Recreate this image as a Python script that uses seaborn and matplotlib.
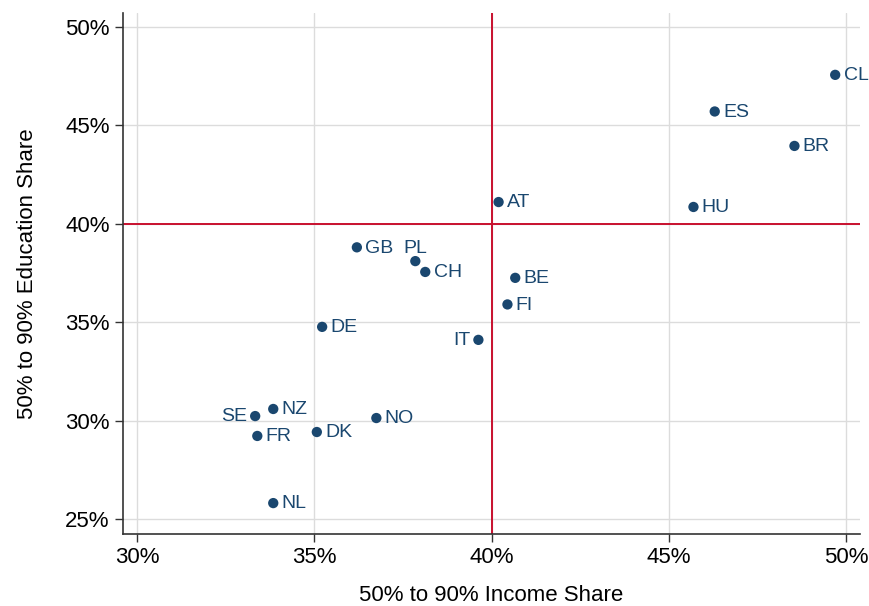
import pandas as pd
import matplotlib.pyplot as plt
import seaborn as sns
from matplotlib.ticker import PercentFormatter

# data
paises = ['CL', 'ES', 'BR', 'HU', 'AT', 'GB', 'PL', 'CH', 'BE', 'FI',
          'DE', 'IT', 'NZ', 'SE', 'NO', 'FR', 'DK', 'NL']
renda = [49.7, 46.3, 48.55, 45.7, 40.2, 36.2, 37.85, 38.13, 40.67, 40.45,
         35.22, 39.63, 33.84, 33.33, 36.75, 33.39, 35.07, 33.84]
educacao = [47.56, 45.7, 43.95, 40.85, 41.1, 38.8, 38.1, 37.55, 37.25, 35.9,
            34.76, 34.1, 30.59, 30.23, 30.13, 29.22, 29.42, 25.81]
# posição do rótulo: r = direita, l = esquerda, u = acima
posicao = ['r', 'r', 'r', 'r', 'r', 'r', 'u', 'r', 'r', 'r',
           'r', 'l', 'r', 'l', 'r', 'r', 'r', 'r']

df = pd.DataFrame({'pais': paises, 'renda': renda, 'educacao': educacao, 'pos': posicao})

sns.set_style('white')
plt.rcParams['font.family'] = ['Liberation Sans', 'DejaVu Sans']

azul = '#1a476f'
vermelho = '#c8102e'

fig, ax = plt.subplots(figsize=(8.7, 6.06), dpi=100)

ax.axvline(40, color=vermelho, lw=1.4, zorder=2)
ax.axhline(40, color=vermelho, lw=1.4, zorder=2)

sns.scatterplot(data=df, x='renda', y='educacao', color=azul, s=55,
                edgecolor='none', ax=ax, zorder=3)

for _, r in df.iterrows():
    if r['pos'] == 'r':
        ax.annotate(r['pais'], (r['renda'], r['educacao']), xytext=(6, -0.5),
                    textcoords='offset points', ha='left', va='center',
                    fontsize=14, color=azul)
    elif r['pos'] == 'l':
        ax.annotate(r['pais'], (r['renda'], r['educacao']), xytext=(-6, -0.5),
                    textcoords='offset points', ha='right', va='center',
                    fontsize=14, color=azul)
    else:
        ax.annotate(r['pais'], (r['renda'], r['educacao']), xytext=(0, 3),
                    textcoords='offset points', ha='center', va='bottom',
                    fontsize=14, color=azul)

ax.set_xlim(29.6, 50.4)
ax.set_ylim(24.24, 50.7)
ax.set_xticks([30, 35, 40, 45, 50])
ax.set_yticks([25, 30, 35, 40, 45, 50])
ax.xaxis.set_major_formatter(PercentFormatter(decimals=0))
ax.yaxis.set_major_formatter(PercentFormatter(decimals=0))
ax.grid(True, color='#dcdcdc', lw=1, zorder=0)
ax.set_axisbelow(True)

for s in ['top', 'right']:
    ax.spines[s].set_visible(False)
for s in ['left', 'bottom']:
    ax.spines[s].set_color('#333333')
    ax.spines[s].set_linewidth(1.2)

ax.tick_params(axis='both', which='major', length=6, width=1, direction='out',
               labelsize=16, color='#333333', labelcolor='black',
               bottom=True, left=True)
ax.set_xlabel('50% to 90% Income Share', fontsize=16, labelpad=12, color='black')
ax.set_ylabel('50% to 90% Education Share', fontsize=16, labelpad=20, color='black')

plt.subplots_adjust(left=0.1414, right=0.9885, top=0.9785, bottom=0.1188)
plt.savefig('out.png', dpi=100)
